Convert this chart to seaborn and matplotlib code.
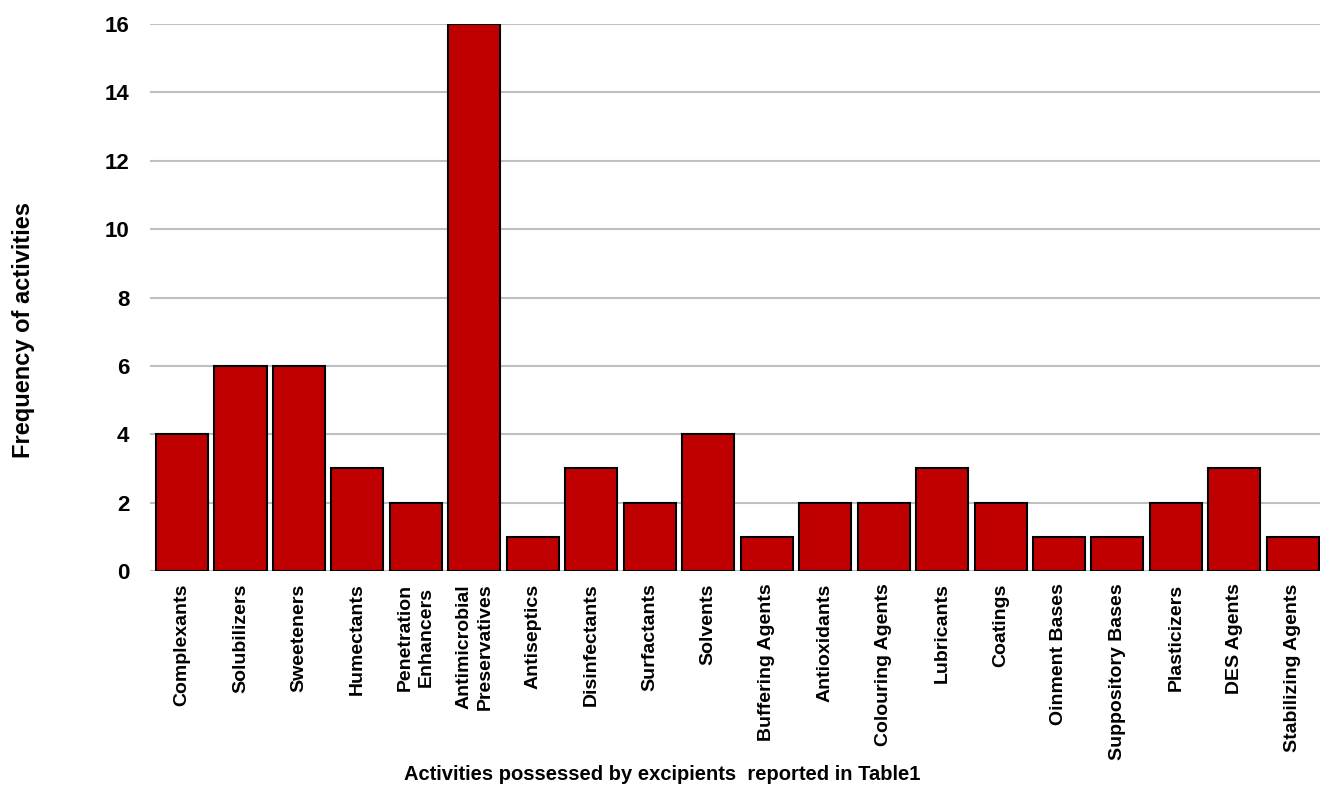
import pandas as pd
import seaborn as sns
import matplotlib.pyplot as plt

# veriler
categories = [
    "Complexants", "Solubilizers", "Sweeteners", "Humectants",
    "Penetration\nEnhancers", "Antimicrobial\nPreservatives", "Antiseptics",
    "Disinfectants", "Surfactants", "Solvents", "Buffering Agents",
    "Antioxidants", "Colouring Agents", "Lubricants", "Coatings",
    "Oinment Bases", "Suppository Bases", "Plasticizers", "DES Agents",
    "Stabilizing Agents",
]
frequency = [4, 6, 6, 3, 2, 16, 1, 3, 2, 4, 1, 2, 2, 3, 2, 1, 1, 2, 3, 1]
y_ticks = [0, 2, 4, 6, 8, 10, 12, 14, 16]

df = pd.DataFrame({"activity": categories, "freq": frequency})

sns.set_style("white")
plt.rcParams['font.family'] = ['Liberation Sans', 'DejaVu Sans']
plt.rcParams['font.weight'] = 'bold'
plt.rcParams['text.color'] = 'black'
plt.rcParams['axes.labelcolor'] = 'black'
plt.rcParams['xtick.color'] = 'black'
plt.rcParams['ytick.color'] = 'black'

fig = plt.figure(figsize=(13.28, 7.85), dpi=100)
ax = fig.add_axes([0.113, 0.2726, 0.881, 0.6968])

sns.barplot(data=df, x="activity", y="freq", color="#C00000",
            edgecolor="black", linewidth=1.5, width=0.89, saturation=1, ax=ax)

ax.set_ylim(0, 16)
ax.set_xlim(-0.547, 19.465)
ax.set_yticks(y_ticks)
ax.set_axisbelow(True)
ax.yaxis.grid(True, color="#c0c0c0", linewidth=1.5)
for s in ax.spines.values():
    s.set_visible(False)

ax.tick_params(axis="y", labelsize=16, length=0, pad=15)
ax.tick_params(axis="x", labelsize=14, length=0, pad=9)
plt.setp(ax.get_xticklabels(), rotation=90, va="top", ha="center",
         fontweight="bold", multialignment="center", linespacing=1.35)
plt.setp(ax.get_yticklabels(), fontweight="bold")

ax.set_xlabel("Activities possessed by excipients  reported in Table1",
              fontsize=14.5, fontweight="bold", va="top")
ax.set_ylabel("Frequency of activities", fontsize=17, fontweight="bold")
ax.xaxis.set_label_coords(0.438, -0.355)
ax.yaxis.set_label_coords(-0.098, 0.441)

fig.savefig("out.png", dpi=100)
